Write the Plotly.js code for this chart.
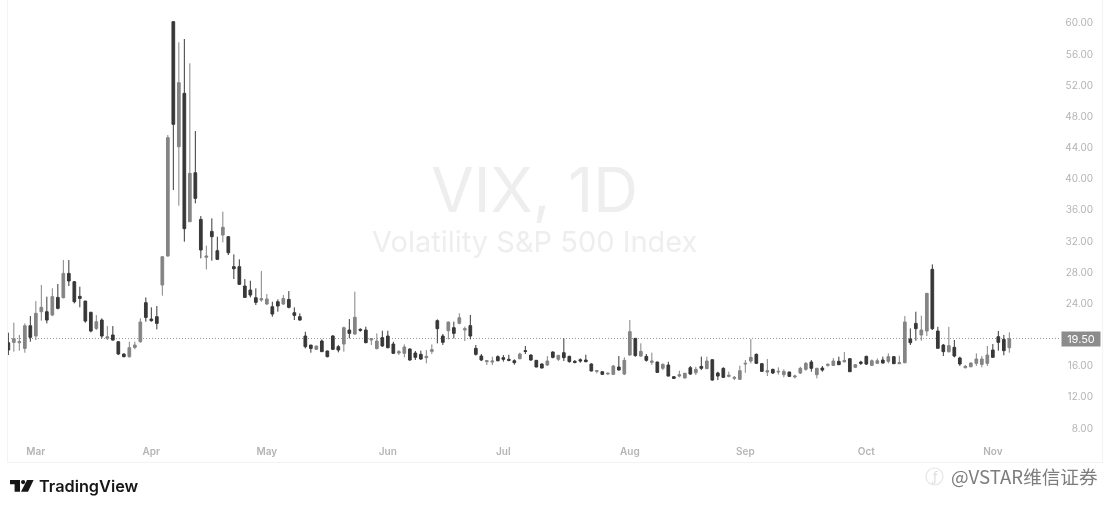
<!DOCTYPE html>
<html><head><meta charset="utf-8">
<script src="https://cdn.plot.ly/plotly-3.0.1.min.js"></script>
<style>html,body{margin:0;padding:0;background:#fff;overflow:hidden}#c{width:1111px;height:510px;filter:blur(0.6px)}</style>
</head><body><div id="c"></div><script>
const high=[20.25,21.53,19.95,21.44,22.38,24.31,26.37,24.87,25.94,26.49,
29.57,29.57,26.88,26.15,24.31,22.94,22.51,22.09,21.1,21.1,
19.09,17.59,19.09,19.09,22.09,24.78,23.5,23.67,30.0,45.62,
60.17,57.52,57.94,54.82,46.13,35.22,31.41,34.92,32.57,35.78,
32.65,30.3,29.66,27.13,26.92,25.94,28.16,25.21,24.22,24.52,
25.08,25.59,23.5,22.73,20.37,18.66,18.58,
19.39,17.94,19.95,18.67,21.02,22.0,25.51,20.81,21.02,19.52,
20.16,20.5,20.5,19.09,18.02,18.75,18.24,17.9,17.94,18.02,
18.75,21.96,20.08,21.66,21.66,22.73,21.02,22.52,18.67,17.51,
16.65,17.17,17.34,17.38,17.42,16.83,17.68,18.54,17.47,16.74,
16.31,17.25,17.85,17.38,19.52,17.3,16.74,16.95,17.42,16.31,
15.46,15.24,15.16,16.1,17.25,17.08,21.88,19.52,18.88,17.51,
17.68,16.52,16.31,16.52,14.68,15.37,15.11,15.97,15.88,17.17,
17.17,16.82,15.24,15.8,15.24,14.68,16.01,16.74,19.43,17.59,
16.35,16.87,15.63,15.8,15.54,15.24,14.85,15.88,16.48,16.74,
15.75,15.97,16.31,16.99,17.17,17.76,16.95,16.22,16.65,17.29,
16.82,16.95,17.17,17.59,17.25,17.29,22.39,20.8,22.94,22.43,
25.3,29.02,21.0,18.79,21.0,19.31,17.17,16.1,16.44,17.6,
17.25,18.54,18.79,20.46,19.95,20.29];
const low=[17.38,17.81,17.94,17.68,19.09,19.3,21.79,21.44,22.38,23.24,
24.65,26.24,24.01,23.5,21.53,20.29,20.59,19.52,19.3,19.22,
17.38,17.08,17.04,18.11,18.96,21.66,21.66,20.67,25.0,30.0,
38.56,36.55,31.93,34.49,36.85,29.79,28.37,29.49,29.57,31.84,
30.22,27.13,26.37,24.78,24.78,23.8,24.22,23.8,22.3,22.94,
23.8,23.37,21.87,21.79,18.23,17.68,18.02,
17.81,17.08,18.02,17.72,17.81,19.52,19.95,20.38,18.88,18.67,
18.11,18.45,18.24,17.51,17.38,17.08,16.65,16.74,16.74,16.31,
17.51,18.88,18.67,19.39,19.52,21.32,19.18,19.39,17.3,16.61,
16.1,16.1,16.57,16.53,16.57,16.14,16.83,17.51,16.65,15.8,
15.67,15.97,16.95,16.61,16.61,16.4,16.31,16.4,16.44,15.29,
15.03,14.81,14.86,14.81,15.37,14.81,17.3,17.17,17.17,16.53,
16.1,15.11,15.45,14.64,14.34,14.51,14.38,14.85,14.81,15.45,
15.58,14.08,14.17,14.47,14.51,14.17,14.17,15.11,16.31,16.22,
15.24,14.68,14.94,14.85,14.51,14.6,14.38,14.94,15.37,15.24,
14.38,15.24,15.88,15.97,16.1,16.4,15.2,15.71,16.1,16.1,
15.97,16.22,16.31,16.31,16.22,16.22,16.31,18.66,19.22,19.22,
19.82,20.59,18.24,17.25,17.68,17.08,15.97,15.67,15.8,15.97,
15.8,15.97,17.08,17.94,17.34,17.68];
const bodyTop=[18.96,19.48,19.09,21.14,21.14,22.73,23.5,22.94,24.87,24.78,
27.86,27.86,26.79,24.91,24.31,22.86,21.66,21.87,19.73,19.95,
19.09,17.51,18.32,18.66,21.62,24.1,22.0,22.3,30.0,45.28,
60.17,52.34,50.97,40.7,40.78,34.79,30.09,33.25,30.77,33.77,
32.57,28.72,28.72,26.24,25.72,24.74,24.61,24.57,23.58,24.22,
24.65,24.52,22.81,22.3,19.82,18.66,18.53,
19.18,17.9,19.82,18.45,20.89,20.59,22.22,20.68,20.59,19.48,
19.18,19.61,19.82,18.79,17.81,18.41,18.15,17.64,17.47,17.21,
18.07,21.79,19.82,21.62,20.89,22.17,20.76,21.15,18.24,17.25,
16.65,16.61,17.17,17.04,16.83,16.65,17.51,17.94,17.38,16.7,
16.23,16.61,17.77,17.34,17.68,17.21,16.57,16.78,16.74,16.23,
15.37,15.24,15.03,15.97,15.84,16.7,20.38,19.52,17.85,17.21,
16.61,16.48,16.18,16.1,14.6,14.85,15.03,15.75,15.54,15.92,
16.61,16.78,15.07,15.67,14.77,14.51,15.37,16.31,17.08,17.47,
16.27,15.37,15.54,15.28,15.28,15.2,14.68,15.67,16.31,16.48,
15.67,15.71,16.18,16.61,16.57,16.69,16.91,16.14,16.48,17.21,
16.65,16.65,16.74,17.17,17.17,16.4,21.62,19.43,21.44,20.59,
25.3,28.38,20.46,18.66,18.58,18.37,17.0,15.93,16.35,16.87,
16.87,17.38,18.02,19.73,19.39,19.48];
const bodyBottom=[18.02,19.0,18.96,18.23,19.65,19.82,22.94,21.87,22.51,23.37,
24.74,26.88,24.22,24.65,21.74,20.46,20.8,19.82,19.52,19.3,
17.51,17.17,17.17,18.36,19.09,22.21,21.79,21.44,26.37,30.09,
46.99,44.12,33.6,34.49,37.49,30.86,29.92,32.57,29.66,32.78,
30.51,28.46,26.45,24.78,25.08,24.14,24.44,23.93,22.64,23.67,
23.93,23.5,22.47,21.87,18.45,18.23,18.11,
17.81,17.17,18.11,18.02,18.79,20.16,20.08,20.55,18.97,19.31,
18.2,18.54,18.32,17.6,17.64,17.6,16.74,17.08,16.87,17.04,
17.85,20.76,19.01,20.5,20.16,21.45,20.59,19.82,17.47,16.74,
16.53,16.48,16.65,16.83,16.7,16.4,16.91,17.85,16.74,15.84,
15.71,16.1,17.08,16.83,17.04,16.53,16.44,16.61,16.53,15.33,
15.29,14.9,14.94,14.9,15.46,14.94,17.38,17.3,17.25,16.7,
16.44,15.15,15.67,14.68,14.38,14.68,14.43,14.94,15.11,15.67,
15.63,14.17,14.68,14.51,14.64,14.38,14.26,16.22,16.61,16.31,
15.28,15.2,15.07,15.2,14.85,14.64,14.56,15.07,15.54,15.67,
14.85,15.45,16.05,16.05,16.14,16.52,15.24,15.8,16.31,16.22,
16.05,16.31,16.35,16.57,16.27,16.27,16.4,18.96,20.76,19.95,
20.46,20.76,18.24,17.81,17.81,17.25,16.23,15.75,15.88,16.31,
16.18,16.31,17.08,19.01,17.94,18.32];
const risingSessions=[1,2,3,5,6,8,10,16,18,22,23,24,28,29,31,33,36,39,46,47,50,56,61,63,66,67,71,72,76,77,80,82,83,87,88,93,98,100,107,109,110,112,113,115,117,119,122,123,125,127,131,132,133,134,135,138,140,141,143,144,145,147,149,150,152,154,157,158,160,162,163,166,167,171,174,175,176,177,178,182];
const monthLabels=["Mar","Apr","May","Jun","Jul","Aug","Sep","Oct","Nov"];
const monthSessions=[5,26,47,69,90,113,134,156,179];
const priceTicks=[60,56,52,48,44,40,36,32,28,24,16,12,8];
const lastPrice=19.5;

const rising=new Set(risingSessions);
const sessions=high.map((_,i)=>i);
const open=sessions.map(i=>rising.has(i)?bodyBottom[i]:bodyTop[i]);
const close=sessions.map(i=>rising.has(i)?bodyTop[i]:bodyBottom[i]);

const W=1111,H=510,mL=8,mR=9,mT=0,mB=48,pw=W-mL-mR,ph=H-mT-mB;
const px=x=>(x-mL)/pw, py=y=>(H-mB-y)/ph;
const poly=pts=>pts.map((p,i)=>(i?'L':'M')+px(p[0])+','+py(p[1])).join(' ')+' Z';
const grey='#848484',dark='#383838',tick='#b4b4b4';

Plotly.newPlot('c',[{
  type:'candlestick',x:sessions,open,high,low,close,width:0.72,whiskerwidth:0,
  increasing:{line:{color:grey,width:1},fillcolor:grey},
  decreasing:{line:{color:dark,width:1},fillcolor:dark},
  hoverinfo:'skip',showlegend:false
}],{
  width:W,height:H,margin:{l:mL,r:mR,t:mT,b:mB,pad:0},
  paper_bgcolor:'#fff',plot_bgcolor:'#fff',showlegend:false,dragmode:false,
  xaxis:{type:'linear',range:[-0.06,198.85],rangeslider:{visible:false},showgrid:false,zeroline:false,
    tickmode:'array',tickvals:monthSessions,ticktext:monthLabels,ticks:'',ticklabelposition:'inside',ticklabelstandoff:4,
    tickfont:{family:'Inter, Roboto, sans-serif',size:10,color:tick,weight:600},showline:true,linecolor:'#f3f3f3',linewidth:1},
  yaxis:{type:'linear',side:'right',range:[3.65,62.95],showgrid:false,zeroline:false,
    tickmode:'array',tickvals:priceTicks,ticktext:priceTicks.map(v=>v.toFixed(2)),ticks:'',ticklabelposition:'inside',ticklabelstandoff:8,
    tickfont:{family:'Inter, Roboto, sans-serif',size:10,color:tick},showline:true,mirror:true,linecolor:'#f3f3f3',linewidth:1},
  shapes:[
    {type:'line',xref:'paper',yref:'y',x0:0,x1:px(1061),y0:lastPrice,y1:lastPrice,line:{color:'#9a9a9a',width:1,dash:'1px,2px'},layer:'below'},
    {type:'path',xref:'paper',yref:'paper',path:poly([[10,480],[20,480],[20,491.7],[14.6,491.7],[14.6,484.2],[10,484.2]]),fillcolor:'#161616',line:{width:0}},
    {type:'circle',xref:'paper',yref:'paper',x0:px(21),x1:px(25.2),y0:py(484.2),y1:py(480),fillcolor:'#161616',line:{width:0}},
    {type:'path',xref:'paper',yref:'paper',path:poly([[27,480],[33.6,480],[28,491.7],[21,491.7]]),fillcolor:'#161616',line:{width:0}},
    {type:'circle',xref:'paper',yref:'paper',x0:px(926),x1:px(943),y0:py(485),y1:py(468),fillcolor:'rgba(0,0,0,0)',line:{color:'#e6e6e6',width:1.2}}
  ],
  annotations:[
    {xref:'paper',yref:'paper',x:px(534),y:py(190),text:'VIX, 1D',showarrow:false,xanchor:'center',yanchor:'middle',font:{family:'Inter, Roboto, sans-serif',size:62,color:'#eeeeee'}},
    {xref:'paper',yref:'paper',x:px(534),y:py(241),text:'Volatility S&P 500 Index',showarrow:false,xanchor:'center',yanchor:'middle',font:{family:'Inter, Roboto, sans-serif',size:29,color:'#eeeeee'}},
    {xref:'paper',yref:'y',x:px(1080.5),y:lastPrice,text:'19.50',showarrow:false,xanchor:'center',yanchor:'middle',bgcolor:'#8c8c8c',borderpad:0,width:38,height:14,font:{family:'Inter, Roboto, sans-serif',size:11,color:'#ffffff'}},
    {xref:'paper',yref:'paper',x:px(39),y:py(486),text:'TradingView',showarrow:false,xanchor:'left',yanchor:'middle',xshift:-2,font:{family:'Inter, Roboto, sans-serif',size:16.3,color:'#161616',weight:600}},
    {xref:'paper',yref:'paper',x:px(951),y:py(475),text:'@VSTAR维信证券',showarrow:false,xanchor:'left',yanchor:'middle',xshift:-2,font:{family:'"Noto Sans CJK SC", "Noto Sans", sans-serif',size:18.6,color:'#7c7c7c'}},
    {xref:'paper',yref:'paper',x:px(934.5),y:py(476.5),text:'ƒ',showarrow:false,xanchor:'center',yanchor:'middle',font:{family:'"Noto Sans", sans-serif',size:13,color:'#dddddd'}}
  ]
},{staticPlot:true,displayModeBar:false});
</script></body></html>
